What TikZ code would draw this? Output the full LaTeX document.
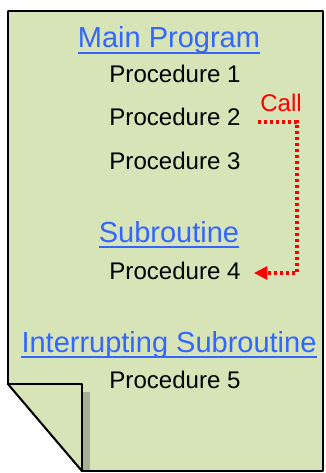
\documentclass[tikz,border=0pt]{standalone}
\usepackage{fontspec}
\setmainfont{Liberation Sans}
\usetikzlibrary{positioning,arrows.meta}
\definecolor{pagegreen}{HTML}{D7E4B8}
\definecolor{linkblue}{HTML}{3366FF}
\definecolor{foldshadow}{RGB}{170,176,152}

\begin{document}
\begin{tikzpicture}[x=0.02cm, y=-0.02cm,
  head/.style={anchor=base, inner sep=0pt, text=linkblue, font=\fontsize{16.5}{19}\selectfont},
  item/.style={anchor=base, inner sep=0pt, font=\fontsize{13.7}{16}\selectfont},
  uline/.style={linkblue, line width=0.8pt},
  callline/.style={red, line width=2pt, dash pattern=on 0.065cm off 0.055cm,
    -{Triangle[length=0.27cm, width=0.26cm]}}
]
\useasboundingbox (0,0) rectangle (325,473);
% page with folded corner
\draw[fill=pagegreen, line width=1.1pt, line join=round]
  (8,11) -- (323,11) -- (323,471) -- (82,471) -- (8,384) -- cycle;
\fill[foldshadow] (83,392) rectangle (90,470);
\draw[fill=pagegreen, line width=1.1pt, line join=round]
  (8,384) -- (82,384) -- (82,471) -- cycle;

% headings and procedures
\node[head] (mainprog) at (169,48) {Main Program};
\node[item] (p1) at (175,83) {Procedure 1};
\node[item] (p2) at (175,126) {Procedure 2};
\node[item] (p3) at (175,169) {Procedure 3};
\node[head] (subr) at (169,242) {Subroutine};
\node[item] (p4) at (175,279) {Procedure 4};
\node[head] (intsubr) at (169,352) {Interrupting Subroutine};
\node[item] (p5) at (175,388) {Procedure 5};
\node[item, text=red] (call) at (281,112) {Call};

\foreach \h in {mainprog, subr, intsubr}
  \draw[uline] ([yshift=-0.1cm]\h.base west) -- ([yshift=-0.1cm]\h.base east);

% call into the subroutine
\draw[callline] ([shift={(17,-4)}]p2.base east) -- ++(39,0) |- ([shift={(13,-6)}]p4.base east);
\end{tikzpicture}
\end{document}
